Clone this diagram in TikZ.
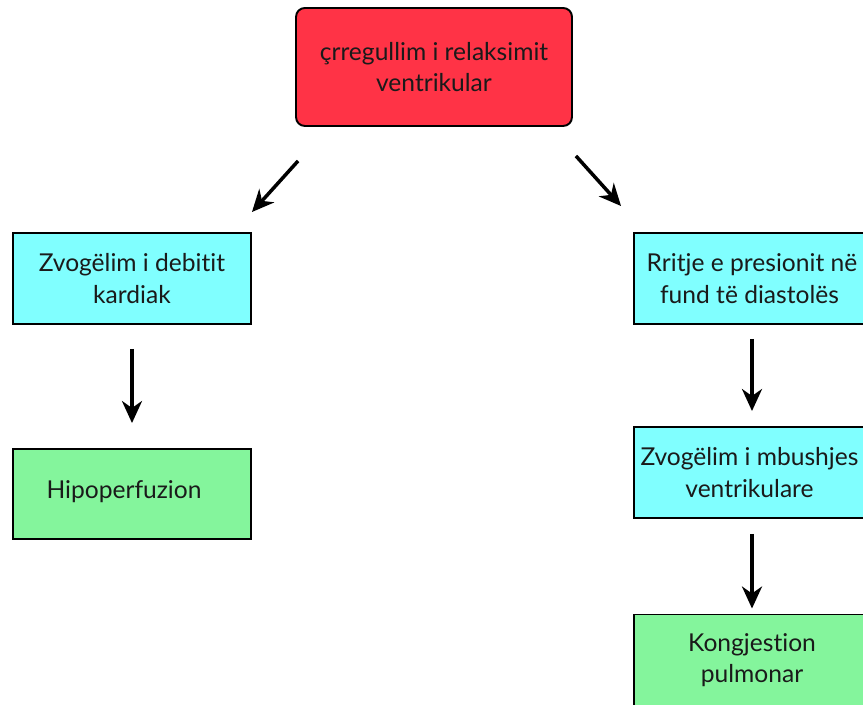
\documentclass[tikz,border=0pt]{standalone}
\usepackage{fontspec}
\setmainfont{Lato}[Ligatures=NoCommon]
\usetikzlibrary{calc,arrows.meta}

\definecolor{causered}{HTML}{FF3346}
\definecolor{stepcyan}{HTML}{80FFFF}
\definecolor{endgreen}{HTML}{84F59C}
\definecolor{textdark}{HTML}{1A1A1A}

\tikzset{
    box/.style={draw, line width=1.1pt, align=center, text=textdark,
        font=\fontsize{14}{18}\selectfont, inner sep=0pt},
    arr/.style={line width=2pt, -{Stealth[length=4.4mm, width=4mm, inset=1.4mm]}}
}

\begin{document}
\begin{tikzpicture}[x=0.02cm, y=0.02cm]
    \useasboundingbox (0,0) rectangle (863,705);
    \node[box, fill=causered, rounded corners=5pt, minimum width=5.52cm, minimum height=2.36cm]
        (cause) at (434,638) {çrregullim i relaksimit\\ventrikular};
    \node[box, fill=stepcyan, minimum width=4.76cm, minimum height=1.82cm]
        (debit) at (132,426.5) {Zvogëlim i debitit\\kardiak};
    \node[box, fill=endgreen, minimum width=4.76cm, minimum height=1.80cm]
        (hypo) at (132,211) {\raisebox{5pt}{Hipoperfuzion}\hspace*{0.32cm}};
    \node[box, fill=stepcyan, minimum width=4.72cm, minimum height=1.82cm]
        (press) at (752,426.5) {Rritje e presionit në\\fund të diastolës\hspace*{0.1cm}};
    \node[box, fill=stepcyan, minimum width=4.72cm, minimum height=1.82cm]
        (fill) at (752,232.5) {Zvogëlim i mbushjes\hspace*{0.1cm}\\ventrikulare\hspace*{0.1cm}};
    \node[box, fill=endgreen, minimum width=4.72cm, minimum height=1.82cm]
        (cong) at (752,45) {Kongjestion\\pulmonar};
    % arrows between the boxes
    \draw[arr] ($(cause.south west)+(3,-34)$) -- ($(debit.north east)+(0,20)$);
    \draw[arr] ($(cause.south east)+(3,-29)$) -- ($(press.north west)+(-12,26)$);
    \draw[arr, shorten <=0.48cm, shorten >=0.5cm] (debit.south) -- (hypo.north);
    \draw[arr, shorten <=0.28cm, shorten >=0.3cm] (press.south) -- (fill.north);
    \draw[arr, shorten <=0.3cm, shorten >=0.1cm] (fill.south) -- (cong.north);
\end{tikzpicture}
\end{document}
